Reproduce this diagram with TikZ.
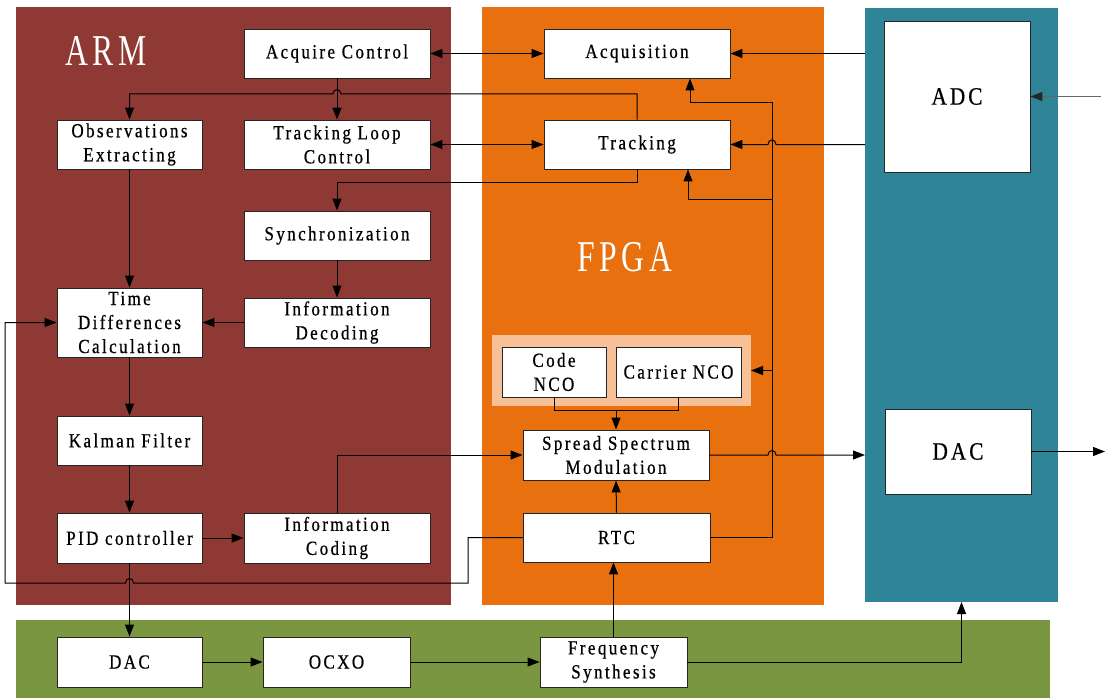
\documentclass[tikz,border=0pt]{standalone}
\usepackage{fontspec}
\setmainfont[FakeStretch=0.85,LetterSpace=12,FakeBold=0.6]{Liberation Serif}
\newfontfamily\titlefont[FakeStretch=0.72,LetterSpace=10]{Liberation Serif}
\usetikzlibrary{arrows.meta,calc}

\definecolor{armred}{HTML}{8E3934}
\definecolor{fpgaorange}{HTML}{E8700E}
\definecolor{rfteal}{HTML}{308498}
\definecolor{clkgreen}{HTML}{7A9640}
\definecolor{ncopeach}{HTML}{F8C096}

\begin{document}
\begin{tikzpicture}[x=1pt,y=-1pt,
  panel/.style={draw=none,inner sep=0pt,outer sep=0pt},
  blk/.style={draw=black!85,fill=white,line width=0.9pt,align=center,
    inner sep=1pt,font=\fontsize{20}{24}\selectfont},
  wire/.style={line width=1pt,black},
  tip/.tip={Triangle[length=12pt,width=9pt]},
  arr/.style={wire,-tip},
  dbl/.style={wire,tip-tip},
  title/.style={text=white,font=\titlefont\fontsize{44}{44}\selectfont}
]
\useasboundingbox (0,0) rectangle (1105,698);

% ---------- subsystem panels ----------
\node[panel,fill=armred,minimum width=435pt,minimum height=598pt] (arm) at (233.5,306) {};
\node[panel,fill=fpgaorange,minimum width=342pt,minimum height=598pt] (fpga) at (653,306) {};
\node[panel,fill=rfteal,minimum width=193pt,minimum height=594pt] (teal) at (961.5,305) {};
\node[panel,fill=clkgreen,minimum width=1034pt,minimum height=78pt] (green) at (533,659) {};
\node[panel,fill=ncopeach,minimum width=259pt,minimum height=71pt] (ncogrp) at (621.5,370.5) {};

\node[title] (armlabel) at (106,51) {ARM};
\node[title] (fpgalabel) at (625,257) {FPGA};

% ---------- ARM blocks ----------
\node[blk,minimum width=186pt,minimum height=49pt] (acqctrl) at (337,53.5) {Acquire Control};
\node[blk,minimum width=145pt,minimum height=49pt] (obs) at (129.5,144.5) {Observations\\Extracting};
\node[blk,minimum width=186pt,minimum height=49pt] (tlc) at (337,144.5) {Tracking Loop\\Control};
\node[blk,minimum width=186pt,minimum height=49pt] (sync) at (337,235.5) {Synchronization};
\node[blk,minimum width=145pt,minimum height=69pt] (tdc) at (129.5,322.5) {Time\\Differences\\Calculation};
\node[blk,minimum width=186pt,minimum height=49pt] (infodec) at (337,322.5) {Information\\Decoding};
\node[blk,minimum width=145pt,minimum height=49pt] (kalman) at (129.5,440.5) {Kalman Filter};
\node[blk,minimum width=145pt,minimum height=50pt] (pid) at (129.5,538) {PID controller};
\node[blk,minimum width=186pt,minimum height=50pt] (infocod) at (337,538) {Information\\Coding};

% ---------- FPGA blocks ----------
\node[blk,minimum width=186pt,minimum height=49pt] (acq) at (637,53.5) {Acquisition};
\node[blk,minimum width=186pt,minimum height=49pt] (trk) at (637,144.5) {Tracking};
\node[blk,minimum width=104pt,minimum height=50pt] (codenco) at (554,372) {Code\\NCO};
\node[blk,minimum width=125pt,minimum height=50pt] (carrnco) at (678.5,372) {Carrier NCO};
\node[blk,minimum width=186pt,minimum height=50pt] (ssm) at (616,455) {Spread Spectrum\\Modulation};
\node[blk,minimum width=187pt,minimum height=49pt] (rtc) at (616.5,537.5) {RTC};

% ---------- RF front end ----------
\node[blk,minimum width=146pt,minimum height=151pt,font=\fontsize{25}{28}\selectfont] (adc) at (957,96.5) {ADC};
\node[blk,minimum width=146pt,minimum height=85pt,font=\fontsize{25}{28}\selectfont] (dacrf) at (958,451.5) {DAC};

% ---------- clock chain ----------
\node[blk,minimum width=145pt,minimum height=50pt] (dac) at (129.5,662) {DAC};
\node[blk,minimum width=147pt,minimum height=50pt] (ocxo) at (336.5,662) {OCXO};
\node[blk,minimum width=147pt,minimum height=50pt] (fs) at (613.5,662) {Frequency\\Synthesis};

% ---------- routing helpers ----------
\coordinate (busTop) at (0,94);
\coordinate (busSync) at (0,182);
\coordinate (busAcq) at (0,103);
\coordinate (busTrk) at (0,199);
\coordinate (riser) at (772,0);
\coordinate (acqIn) at (690,0);
\coordinate (trkIn) at (688,0);
\coordinate (loopY) at (0,583);
\coordinate (loopL) at (5,0);
\coordinate (loopX) at (468,0);
\coordinate (ncoY) at (0,410);
\coordinate (rfIn) at (1101,0);
\coordinate (rfOut) at (1105,0);

% ---------- ARM <-> FPGA control ----------
\draw[dbl] (acqctrl.east) -- (acq.west);
\draw[dbl] (tlc.east) -- (trk.west);
\draw[arr] (acqctrl.south) -- (tlc.north);

\coordinate (h1) at (acqctrl.south |- busTop);
\draw[arr] (trk.north) -- (trk.north |- busTop) -- ($(h1)+(4,0)$)
  .. controls ($(h1)+(4,-6)$) and ($(h1)+(-4,-6)$) .. ($(h1)+(-4,0)$)
  -- (obs.north |- busTop) -- (obs.north);
\draw[arr] (trk.south) -- (trk.south |- busSync) -| (sync.north);

% ---------- ARM processing chain ----------
\draw[arr] (sync.south) -- (infodec.north);
\draw[arr] (infodec.west) -- (tdc.east);
\draw[arr] (obs.south) -- (tdc.north);
\draw[arr] (tdc.south) -- (kalman.north);
\draw[arr] (kalman.south) -- (pid.north);
\draw[arr] (pid.east) -- (infocod.west);
\draw[arr] (infocod.north) |- (ssm.west);
\draw[arr] (pid.south) -- (dac.north);

% RTC time back to the time difference calculation
\coordinate (h4) at (pid.south |- loopY);
\draw[arr] (rtc.west) -- (loopX |- rtc.west) -- (loopX |- loopY) -- ($(h4)+(4,0)$)
  .. controls ($(h4)+(4,-6)$) and ($(h4)+(-4,-6)$) .. ($(h4)+(-4,0)$)
  -- (loopL |- loopY) -- (loopL |- tdc.west) -- (tdc.west);

% ---------- FPGA internals ----------
\draw[wire] (codenco.south) |- (carrnco.south |- ncoY) -- (carrnco.south);
\draw[arr] (ssm.north |- ncoY) -- (ssm.north);
\draw[arr] (rtc.north) -- (ssm.south);

\draw[arr] (rtc.east) -- (riser |- rtc.east) -- (riser |- busAcq) -- (acqIn |- busAcq) -- (acqIn |- acq.south);
\draw[arr] (riser |- busTrk) -- (trkIn |- busTrk) -- (trkIn |- trk.south);
\draw[arr] (riser |- ncogrp.east) -- (ncogrp.east);

% ---------- RF front end links ----------
\draw[arr] (teal.west |- acq.east) -- (acq.east);
\coordinate (h2) at (riser |- trk.east);
\draw[arr] (teal.west |- trk.east) -- ($(h2)+(4,0)$)
  .. controls ($(h2)+(4,-6)$) and ($(h2)+(-4,-6)$) .. ($(h2)+(-4,0)$) -- (trk.east);
\coordinate (h3) at (riser |- ssm.east);
\draw[arr] (ssm.east) -- ($(h3)+(-4,0)$)
  .. controls ($(h3)+(-4,-6)$) and ($(h3)+(4,-6)$) .. ($(h3)+(4,0)$) -- (teal.west |- ssm.east);
\draw[wire,black!60,-{Triangle[length=12pt,width=9pt,color=black!85]}] (rfIn |- adc.east) -- (adc.east);
\draw[arr] (dacrf.east) -- (rfOut |- dacrf.east);

% ---------- clock chain ----------
\draw[arr] (dac.east) -- (ocxo.west);
\draw[arr] (ocxo.east) -- (fs.west);
\draw[arr] (fs.north) -- (fs.north |- rtc.south);
\draw[arr] (fs.east) -| (teal.south);
\end{tikzpicture}
\end{document}
